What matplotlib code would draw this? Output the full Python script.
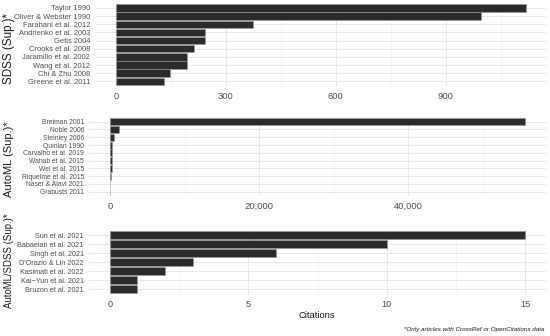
import matplotlib
matplotlib.use("Agg")
import matplotlib.pyplot as plt
import numpy as np

plt.rcParams['font.family'] = ['Liberation Sans', 'DejaVu Sans']

# ---- data (top to bottom as displayed) ----
sdss_labels = ["Taylor 1990", "Oliver & Webster 1990", "Farahani et al. 2012",
               "Andrienko et al. 2003", "Getis 2004", "Crooks et al. 2008",
               "Jaramillo et al. 2002", "Wang et al. 2012", "Chi & Zhu 2008",
               "Greene et al. 2011"]
sdss_values = [1118, 996, 373, 242, 242, 214, 194, 193, 148, 132]

automl_labels = ["Breiman 2001", "Noble 2006", "Steinley 2006", "Quinlan 1990",
                 "Carvalho et al. 2019", "Wahab et al. 2015", "Wei et al. 2015",
                 "Riquelme et al. 2015", "Naser & Alavi 2021", "Grabusts 2011"]
automl_values = [55700, 1210, 500, 310, 270, 250, 200, 130, 15, 8]

both_labels = ["Sun et al. 2021", "Babaeian et al. 2021", "Singh et al. 2021",
               "D'Orazio & Lin 2022", "Kasimati et al. 2022", "Kai\u2212Yun et al. 2021",
               "Bruzon et al. 2021"]
both_values = [15, 10, 6, 3, 2, 1, 1]

panel_titles = ["SDSS (Sup.)*", "AutoML (Sup.)*", "AutoML/SDSS (Sup.)*"]
major_ticks = [[0, 300, 600, 900], [0, 20000, 40000], [0, 5, 10, 15]]
minor_ticks = [[150, 450, 750, 1050], [10000, 30000, 50000], [2.5, 7.5, 12.5]]
tick_fmt = [lambda v: f"{v:,.0f}", lambda v: f"{v:,.0f}", lambda v: f"{v:g}"]

W, H = 550, 336
fig = plt.figure(figsize=(W / 100, H / 100), dpi=100)
renderer = fig.canvas.get_renderer()


def fit_size(s, target_px, **kw):
    t = fig.text(0, 0, s, fontsize=10, **kw)
    w = t.get_window_extent(renderer).width
    t.remove()
    return 10 * target_px / w


# pixel boxes: left, right, top, bottom
boxes = [(95.5, 546, 3.1, 86.2), (89.3, 546, 117.0, 196.4), (89.0, 546, 229.9, 294.7)]
ytick_ref = [("Oliver & Webster 1990", 75.0), ("Carvalho et al. 2019", 61.0), ("Babaeian et al. 2021", 66.7)]
xtick_size = [6.8, 6.8, 6.6]
title_ref = [71.0, 76.0, 95.0]
title_cy = [48.0, 159.0, 261.0]

datasets = [(sdss_labels, sdss_values), (automl_labels, automl_values), (both_labels, both_values)]
for i, ((labs, vals), (l, r, t, b)) in enumerate(zip(datasets, boxes)):
    ax = fig.add_axes([l / W, 1 - b / H, (r - l) / W, (b - t) / H])
    n = len(labs)
    y = np.arange(n)
    ax.barh(y, vals, height=0.9, color='#2b2b2b', edgecolor='#9a9a9a', linewidth=0.4, zorder=3)
    mx = max(vals)
    ax.set_xlim(-0.05 * mx, 1.05 * mx)
    ax.set_ylim(n - 0.4, -0.6)
    ax.set_yticks(y)
    ys = fit_size(*ytick_ref[i])
    ax.set_yticklabels(labs, fontsize=ys, color='#4d4d4d')
    ax.set_xticks(major_ticks[i])
    ax.set_xticklabels([tick_fmt[i](v) for v in major_ticks[i]], fontsize=xtick_size[i], color='#4d4d4d')
    ax.set_xticks(minor_ticks[i], minor=True)
    ax.tick_params(axis='both', which='both', length=0)
    ax.tick_params(axis='y', pad=3.8)
    ax.tick_params(axis='x', pad=4)
    ax.grid(True, which='major', axis='both', color='#e8e8e8', linewidth=0.7, zorder=0)
    ax.grid(True, which='minor', axis='x', color='#f2f2f2', linewidth=0.45, zorder=0)
    for s in ax.spines.values():
        s.set_visible(False)
    ts = fit_size(panel_titles[i], title_ref[i])
    fig.text(9 / W, 1 - title_cy[i] / H, panel_titles[i], rotation=90,
             ha='center', va='center', fontsize=ts, color='#1a1a1a')

fig.text(317 / W, 1 - 315.7 / H, "Citations", ha='center', va='center',
         fontsize=fit_size("Citations", 36.7), color='#1a1a1a')
cap = "*Only articles with CrossRef or OpenCitations data"
fig.text(545 / W, 1 - 329 / H, cap, ha='right', va='center',
         fontsize=fit_size(cap, 140.7, style='italic'), style='italic', color='#1a1a1a')

fig.savefig("out.png", dpi=100)
